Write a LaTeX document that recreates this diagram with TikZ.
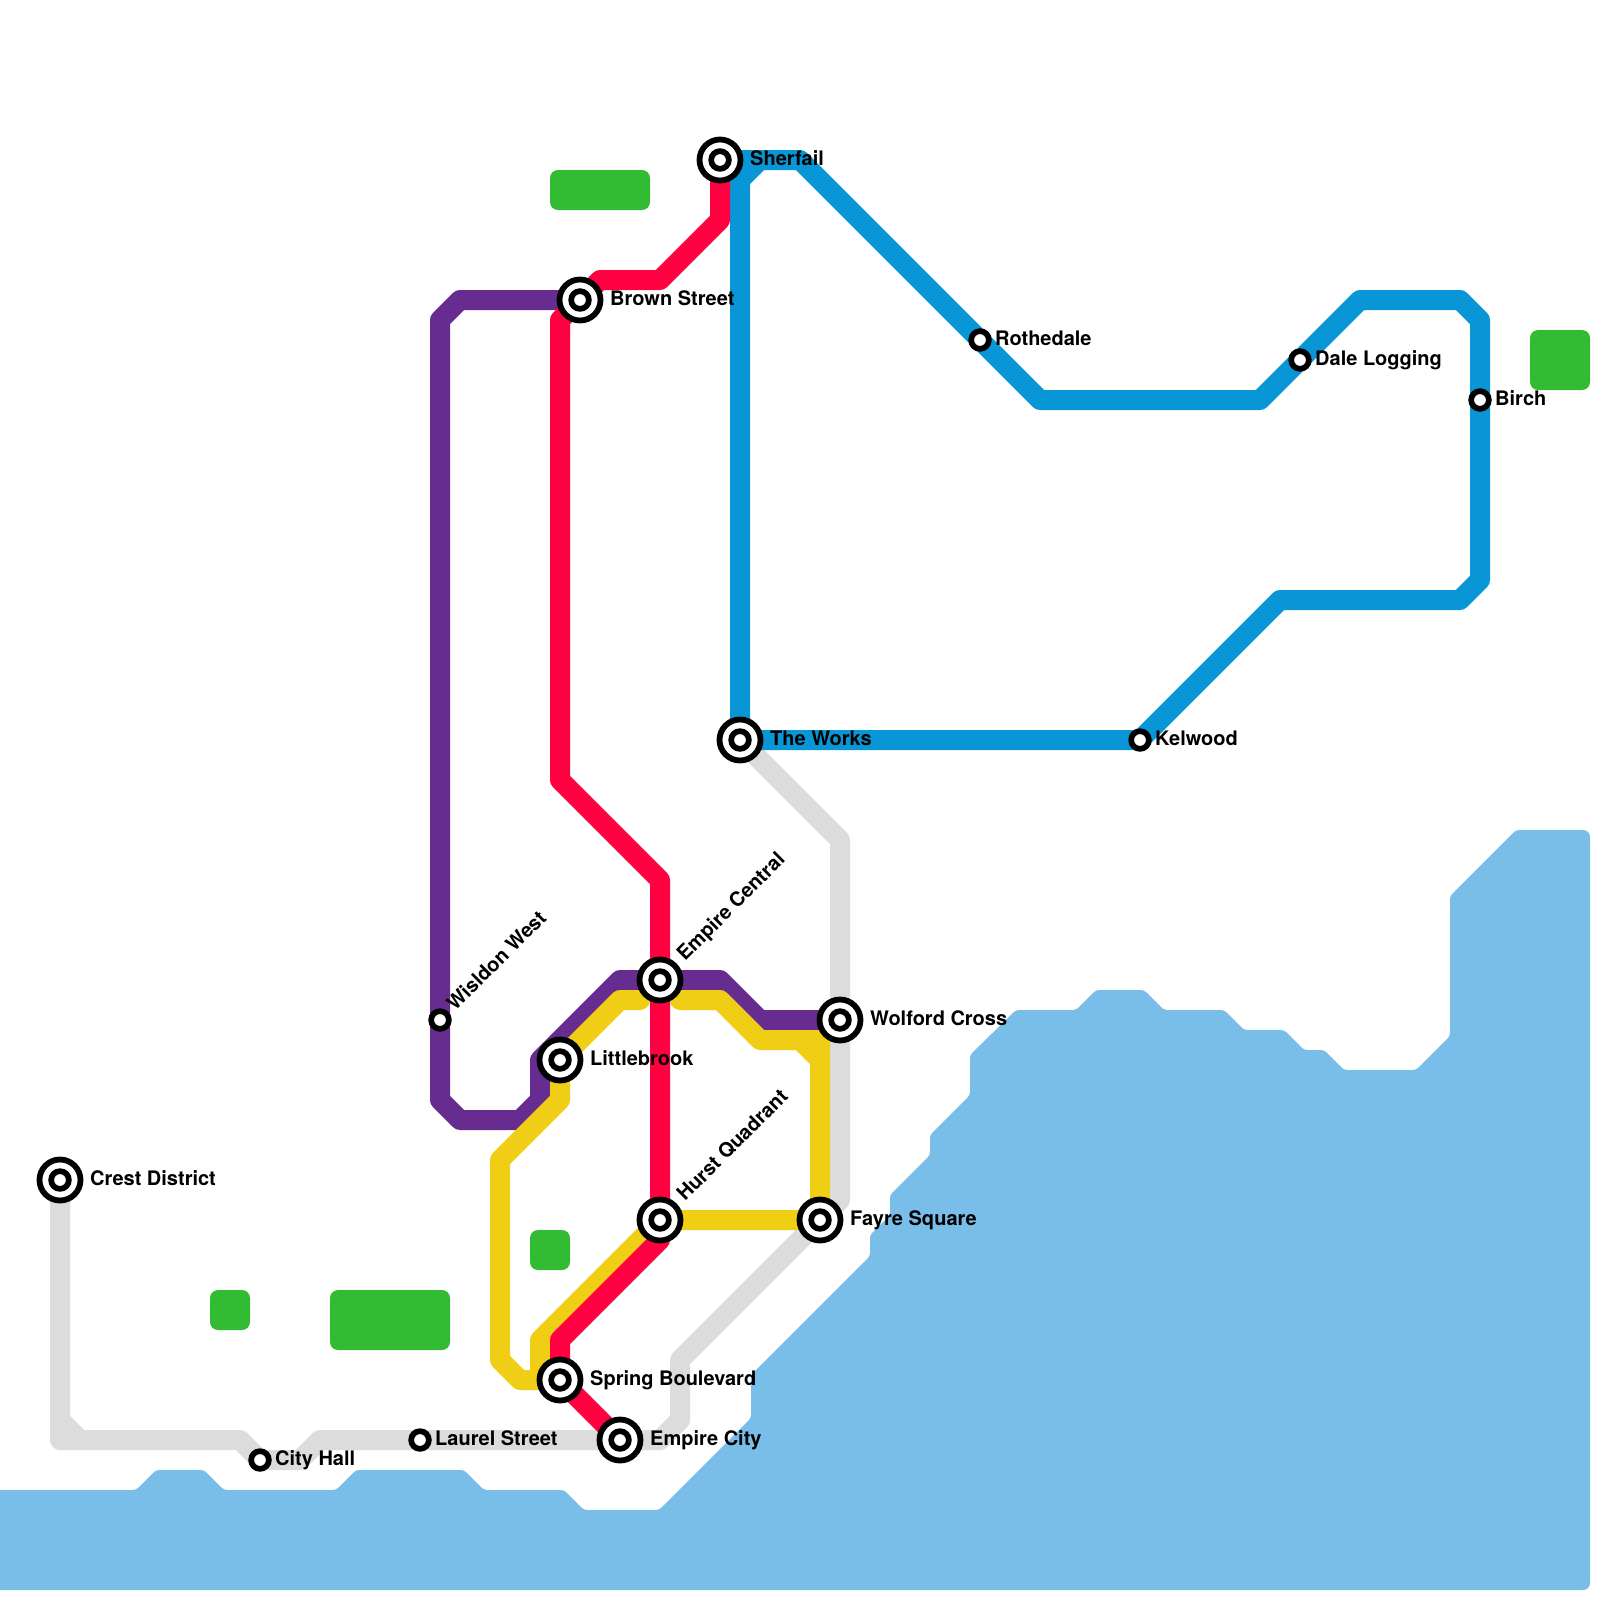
\documentclass[tikz,border=0pt]{standalone}
\usepackage{fontspec}
\setmainfont{TeX Gyre Heros}
\usetikzlibrary{backgrounds}
\definecolor{bluetube}{HTML}{0896D7}
\definecolor{redtube}{HTML}{FF0040}
\definecolor{purpletube}{HTML}{662C90}
\definecolor{yellowtube}{HTML}{F0CE15}
\definecolor{greytube}{HTML}{DCDCDC}
\definecolor{river}{HTML}{79BDE9}
\definecolor{park}{HTML}{33BB33}
\tikzset{
  tube/.style={line width=20pt, line join=round, line cap=round},
  parkbox/.style={fill=park, rounded corners=8pt},
  bigstn/.style={circle, draw=black, fill=white, line width=5.8pt, minimum size=41pt, inner sep=0pt,
    path picture={\draw[black, fill=white, line width=5.7pt] (path picture bounding box.center) circle (8.85pt);}},
  smallstn/.style={circle, draw=black, fill=white, line width=5.7pt, minimum size=17.7pt, inner sep=0pt},
  stnlabel/.style={anchor=base west, inner sep=0pt, font=\fontsize{20}{24}\selectfont\bfseries}
}
\begin{document}
\begin{tikzpicture}[x=1pt, y=-1pt]
  \useasboundingbox (0,0) rectangle (1600,1600);
  \node[bigstn] (sherfail) at (720,160) {};
  \node[bigstn] (brown) at (580,300) {};
  \node[bigstn] (works) at (740,740) {};
  \node[bigstn] (central) at (660,980) {};
  \node[bigstn] (wolford) at (840,1020) {};
  \node[bigstn] (littlebrook) at (560,1060) {};
  \node[bigstn] (crest) at (60,1180) {};
  \node[bigstn] (hurst) at (660,1220) {};
  \node[bigstn] (fayre) at (820,1220) {};
  \node[bigstn] (spring) at (560,1380) {};
  \node[bigstn] (empirecity) at (620,1440) {};
  \node[smallstn] (rothedale) at (980,340) {};
  \node[smallstn] (dale) at (1300,360) {};
  \node[smallstn] (birch) at (1480,400) {};
  \node[smallstn] (kelwood) at (1140,740) {};
  \node[smallstn] (wisldon) at (440,1020) {};
  \node[smallstn] (laurel) at (420,1440) {};
  \node[smallstn] (cityhall) at (260,1460) {};
  \begin{pgfonlayer}{background}
    \fill[white] (0,0) rectangle (1600,1600);
    \fill[river, rounded corners=3pt] (-10,1490) -- (136,1490) -- (156,1470) -- (204,1470) -- (224,1490)
      -- (336,1490) -- (356,1470) -- (464,1470) -- (484,1490) -- (564,1490) -- (584,1510) -- (659,1510)
      -- (751,1418) -- (751,1375) -- (870,1256) -- (870,1235) -- (890,1215) -- (890,1195) -- (930,1155)
      -- (930,1135) -- (970,1095) -- (970,1055) -- (1016,1010) -- (1076,1010) -- (1096,990) -- (1144,990)
      -- (1164,1010) -- (1224,1010) -- (1244,1030) -- (1284,1030) -- (1304,1050) -- (1324,1050) -- (1344,1070)
      -- (1416,1070) -- (1450,1036) -- (1450,896) -- (1516,830) [rounded corners=7pt] -- (1590,830) -- (1590,1590)
      [sharp corners] -- (-10,1590) -- cycle;
    \fill[parkbox] (550,170) rectangle (650,210);
    \fill[parkbox] (1530,330) rectangle (1590,390);
    \fill[parkbox] (530,1230) rectangle (570,1270);
    \fill[parkbox] (210,1290) rectangle (250,1330);
    \fill[parkbox] (330,1290) rectangle (450,1350);
    \draw[tube, greytube] (crest.center) -- (60,1440) -- (240,1440) -- (260,1460) -- (300,1460) -- (320,1440)
      -- (660,1440) -- (680,1420) -- (680,1360) -- (fayre.center) -- (840,1200) -- (840,840) -- (works.center);
    \draw[tube, greytube] (60,1420) -- (80,1440);
    \draw[tube, bluetube] (sherfail.center) -- (800,160) -- (1040,400) -- (1260,400) -- (1360,300) -- (1460,300)
      -- (1480,320) -- (1480,580) -- (1460,600) -- (1280,600) -- (kelwood.center) -- (works.center)
      -- (740,180) -- (760,160) -- (800,160);
    \draw[tube, purpletube] (brown.center) -- (460,300) -- (440,320) -- (440,1100) -- (460,1120) -- (520,1120)
      -- (540,1100) -- (540,1060) -- (620,980) -- (720,980) -- (760,1020) -- (wolford.center);
    \draw[tube, yellowtube] (640,1000) -- (620,1000) -- (littlebrook.center) -- (560,1100) -- (500,1160)
      -- (500,1360) -- (520,1380) -- (spring.center);
    \draw[tube, yellowtube] (540,1380) -- (540,1340) -- (hurst.center) -- (fayre.center) -- (820,1040)
      -- (760,1040) -- (720,1000) -- (680,1000);
    \draw[tube, yellowtube] (800,1040) -- (820,1060);
    \draw[tube, redtube] (sherfail.center) -- (720,220) -- (660,280) -- (600,280) -- (brown.center) -- (560,320)
      -- (560,780) -- (660,880) -- (central.center) -- (hurst.center) -- (660,1240) -- (560,1340)
      -- (spring.center) -- (empirecity.center);
  \end{pgfonlayer}
  \node[stnlabel] (sherfailtxt) at (750,165.5) {Sherfail};
  \node[stnlabel] (browntxt) at (610,305.5) {Brown Street};
  \node[stnlabel] (workstxt) at (770,745.5) {The Works};
  \node[stnlabel] (wolfordtxt) at (870,1025.5) {Wolford Cross};
  \node[stnlabel] (littlebrooktxt) at (590,1065.5) {Littlebrook};
  \node[stnlabel] (cresttxt) at (90,1185.5) {Crest District};
  \node[stnlabel] (fayretxt) at (850,1225.5) {Fayre Square};
  \node[stnlabel] (springtxt) at (590,1385.5) {Spring Boulevard};
  \node[stnlabel] (empirecitytxt) at (650,1445.5) {Empire City};
  \node[stnlabel] (rothedaletxt) at (995,345.5) {Rothedale};
  \node[stnlabel] (daletxt) at (1315,365.5) {Dale Logging};
  \node[stnlabel] (birchtxt) at (1495,405.5) {Birch};
  \node[stnlabel] (kelwoodtxt) at (1155,745.5) {Kelwood};
  \node[stnlabel] (laureltxt) at (435,1445.5) {Laurel Street};
  \node[stnlabel] (cityhalltxt) at (275,1465.5) {City Hall};
  \node[stnlabel, rotate=45] (centraltxt) at (685,962) {Empire Central};
  \node[stnlabel, rotate=45] (hursttxt) at (685,1202) {Hurst Quadrant};
  \node[stnlabel, rotate=45] (wisldontxt) at (455,1012) {Wisldon West};
\end{tikzpicture}
\end{document}
